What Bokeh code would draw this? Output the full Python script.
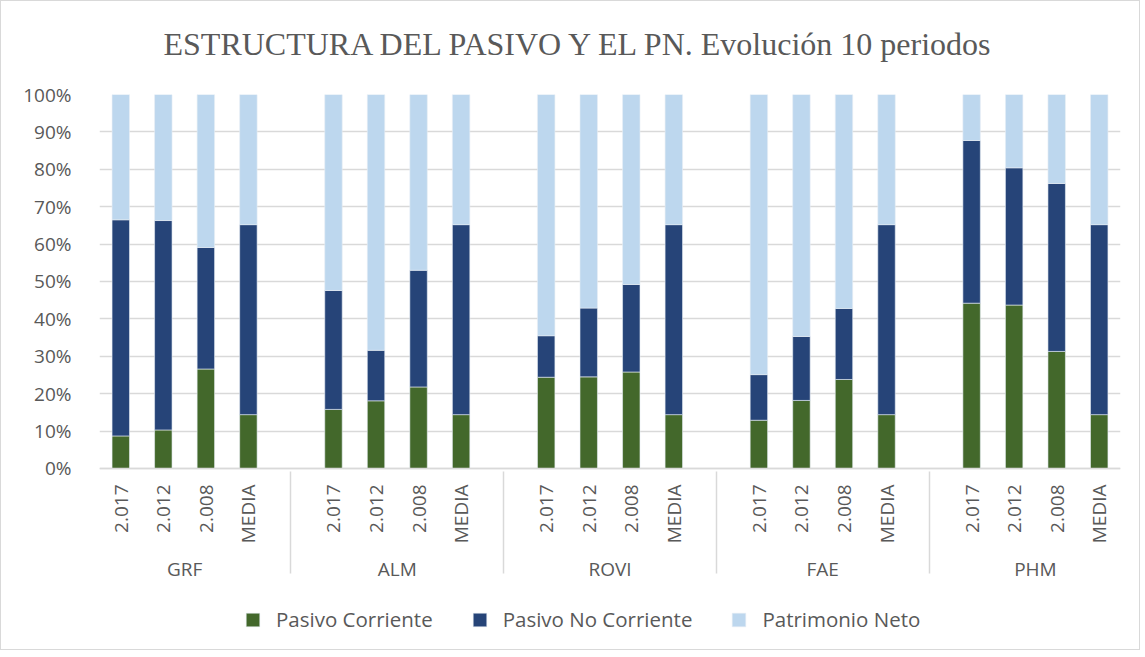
import math
from bokeh.plotting import figure
from bokeh.models import (ColumnDataSource, FactorRange, FixedTicker, PrintfTickFormatter,
                          Legend, LegendItem, Range1d, Title)
from bokeh.embed import file_html
from bokeh.resources import INLINE

# ---- data ----
companies = ["GRF", "ALM", "ROVI", "FAE", "PHM"]
periods = ["2.017", "2.012", "2.008", "MEDIA"]

pasivo_corriente = [
    8.7, 10.3, 26.6, 14.4,
    15.8, 18.1, 21.8, 14.4,
    24.4, 24.5, 25.8, 14.4,
    12.9, 18.2, 23.8, 14.4,
    44.2, 43.7, 31.3, 14.4,
]
pasivo_no_corriente = [
    57.8, 56.0, 32.5, 50.8,
    31.8, 13.5, 31.2, 50.8,
    11.1, 18.4, 23.4, 50.8,
    12.2, 17.1, 19.0, 50.8,
    43.5, 36.7, 44.9, 50.8,
]
patrimonio_neto = [
    33.5, 33.7, 40.9, 34.8,
    52.4, 68.4, 47.0, 34.8,
    64.5, 57.1, 50.8, 34.8,
    74.9, 64.7, 57.2, 34.8,
    12.3, 19.6, 23.8, 34.8,
]
series_labels = ["Pasivo Corriente", "Pasivo No Corriente", "Patrimonio Neto"]
series_colors = ["#43682b", "#264478", "#bdd7ee"]
y_ticks = list(range(0, 101, 10))

factors = [(c, p) for c in companies for p in periods]
source = ColumnDataSource(data=dict(
    x=factors,
    pc=pasivo_corriente,
    pnc=pasivo_no_corriente,
    pn=patrimonio_neto,
))

TEXT = "#595959"
GRID = "#d9d9d9"
FONT = "Open Sans"

# the frame extends below 0% so that the category labels and the legend
# sit inside it (100 units = 374 px)
p = figure(
    frame_width=1021, frame_height=555,
    x_range=FactorRange(*factors, group_padding=1.0, range_padding=0.0),
    y_range=Range1d(-48.4, 100),
    output_backend="svg", toolbar_location=None,
    min_border_left=98, min_border_right=19, min_border_top=0, min_border_bottom=0,
)
p.styles = {"border": "1px solid #d9d9d9"}
p.outline_line_color = None

spacer_title = Title(text=" ", text_font_size="2px", standoff=7)
main_title = Title(text="ESTRUCTURA DEL PASIVO Y EL PN. Evolución 10 periodos",
                   align="left", offset=64, text_font="Liberation Serif",
                   text_font_style="normal", text_font_size="32px", text_color=TEXT,
                   standoff=44)
p.add_layout(spacer_title, "above")
p.add_layout(main_title, "above")

renderers = p.vbar_stack(["pc", "pnc", "pn"], x="x", width=0.41, color=series_colors,
                         line_color="#e8eef5", line_width=0.6, source=source)

# y axis
p.yaxis.ticker = FixedTicker(ticks=y_ticks)
p.yaxis.formatter = PrintfTickFormatter(format="%d%%")
p.yaxis.axis_line_color = None
p.yaxis.major_tick_line_color = None
p.yaxis.minor_tick_line_color = None
p.yaxis.major_label_text_font = FONT
p.yaxis.major_label_text_font_size = "19px"
p.yaxis.major_label_text_color = TEXT
p.yaxis.major_label_standoff = 22

p.ygrid.ticker = FixedTicker(ticks=y_ticks)
p.ygrid.grid_line_color = GRID
p.ygrid.grid_line_width = 1.3
p.xgrid.grid_line_color = None

# x axis, drawn at the 0% line
xa = p.xaxis[0]
xa.fixed_location = 0
xa.axis_line_color = GRID
xa.axis_line_width = 1.3
xa.major_tick_line_color = None
xa.minor_tick_line_color = None
xa.major_label_orientation = math.pi / 2
xa.major_label_text_font = FONT
xa.major_label_text_font_size = "19px"
xa.major_label_text_color = TEXT
xa.major_label_standoff = 10
xa.group_text_font = FONT
xa.group_text_font_size = "19px"
xa.group_text_color = TEXT
xa.group_text_font_style = "normal"
xa.separator_line_color = GRID
xa.separator_line_width = 1.5

legend = Legend(
    items=[LegendItem(label=lab, renderers=[r]) for lab, r in zip(series_labels, renderers)],
    orientation="horizontal", location=(145, 16),
    glyph_width=17, glyph_height=17, label_standoff=15, spacing=38,
    label_text_font=FONT, label_text_font_size="20.5px", label_text_color=TEXT,
    border_line_color=None, background_fill_alpha=0, margin=0, padding=0,
)
p.add_layout(legend)

open("out.html", "w").write(file_html(p, INLINE))
